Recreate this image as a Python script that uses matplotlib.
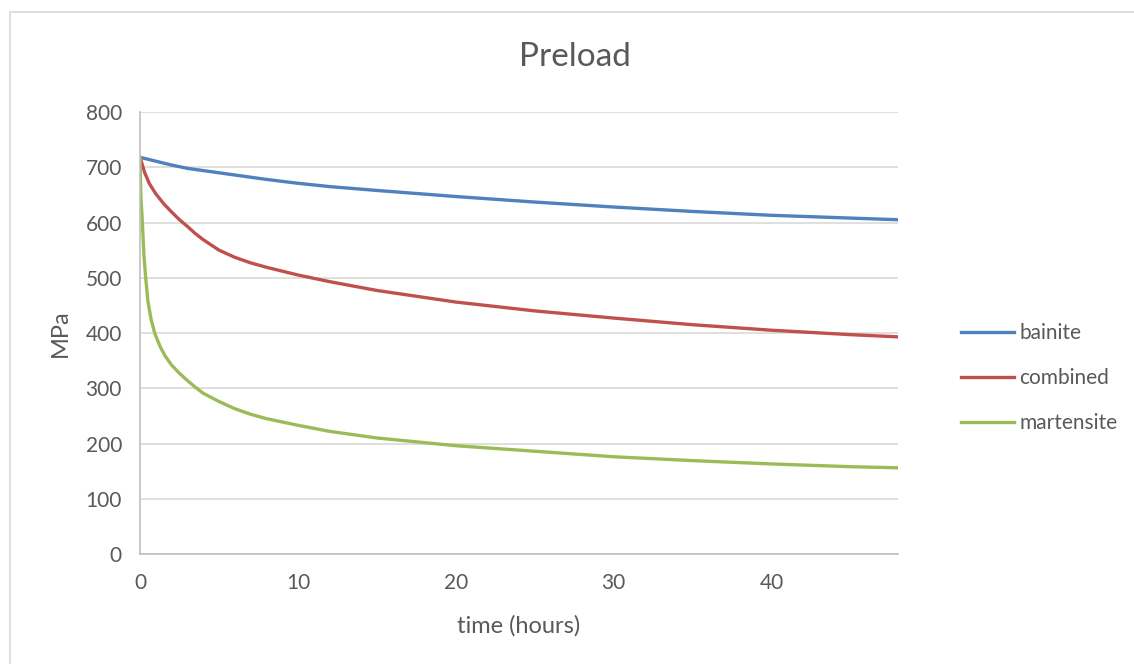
import matplotlib
matplotlib.use("Agg")
import matplotlib.pyplot as plt
from matplotlib.patches import Rectangle
from matplotlib.lines import Line2D

# Preload relaxation over time (hours) for three steel microstructures
time_bainite = [0, 1, 2, 3, 4, 6, 8, 10, 12, 15, 20, 25, 30, 35, 40, 45, 48]
bainite = [718, 711, 704, 698, 694, 686, 678, 671, 665, 658, 647, 637, 628, 620, 613, 608, 605]

time_combined = [0, 0.3, 0.6, 1, 1.5, 2, 2.5, 3, 3.5, 4, 5, 6, 7, 8, 10, 12, 15,
                 20, 25, 30, 35, 40, 45, 48]
combined = [718, 690, 670, 652, 634, 619, 605, 593, 580, 569, 550, 537, 527, 519, 505, 493, 477,
            456, 440, 427, 415, 405, 397, 393]

time_martensite = [0, 0.05, 0.15, 0.25, 0.36, 0.5, 0.7, 0.95, 1.3, 1.6, 2, 2.5, 3, 3.5, 4,
                   5, 6, 7, 8, 10, 12, 15, 20, 25, 30, 35, 40, 45, 48]
martensite = [718, 650, 600, 540, 500, 458, 425, 398, 374, 358, 342, 327, 314, 302, 291,
              276, 263, 253, 245, 233, 222, 210, 196, 186, 176, 169, 163, 158, 156]

series_names = ["bainite", "combined", "martensite"]
series_colors = ["#4F81BD", "#C0504D", "#9BBB59"]
x_ticks = [0, 10, 20, 30, 40]
y_ticks = [0, 100, 200, 300, 400, 500, 600, 700, 800]

plt.rcParams["font.family"] = ["Lato", "DejaVu Sans"]
text_color = "#595959"

W, H = 1134, 664
fig = plt.figure(figsize=(W / 100, H / 100), dpi=100)
fig.patch.set_facecolor("white")

# chart frame
fig.patches.append(Rectangle((10 / W, -0.05), 1.2, 1 - 12 / H + 0.05,
                             transform=fig.transFigure, fill=False,
                             edgecolor="#D9D9D9", linewidth=1.2))

ax = fig.add_axes([140 / W, 1 - 554 / H, (898 - 140) / W, (554 - 112) / H])

for t, v, name, col in zip([time_bainite, time_combined, time_martensite],
                           [bainite, combined, martensite],
                           series_names, series_colors):
    ax.plot(t, v, color=col, linewidth=2.4, label=name,
            solid_capstyle="round", solid_joinstyle="round")

ax.set_xlim(0, 48)
ax.set_ylim(0, 800)
ax.set_xticks(x_ticks)
ax.set_yticks(y_ticks)
ax.tick_params(axis="both", length=0, labelsize=15, colors=text_color)
ax.tick_params(axis="x", pad=14)
ax.tick_params(axis="y", pad=13)
ax.grid(axis="y", color="#D9D9D9", linewidth=1.2)
ax.set_axisbelow(True)
for s in ["top", "right"]:
    ax.spines[s].set_visible(False)
for s in ["left", "bottom"]:
    ax.spines[s].set_color("#BFBFBF")
    ax.spines[s].set_linewidth(1.2)

fig.text(60 / W, 1 - 333 / H, "MPa", rotation=90, ha="center", va="center",
         fontsize=17, color=text_color)
fig.text(519 / W, 1 - 626 / H, "time (hours)", ha="center", va="center",
         fontsize=17, color=text_color)
fig.text(575 / W, 1 - 57 / H, "Preload", ha="center", va="center",
         fontsize=24, color=text_color)

handles = [Line2D([0], [0], color=c, linewidth=2.4) for c in series_colors]
leg = fig.legend(handles, series_names, loc="center left",
                 bbox_to_anchor=(942 / W, 1 - 378 / H), frameon=False,
                 fontsize=15, handlelength=2.55, handletextpad=0.25,
                 labelspacing=1.2, labelcolor=text_color)

fig.savefig("out.png", dpi=100)
